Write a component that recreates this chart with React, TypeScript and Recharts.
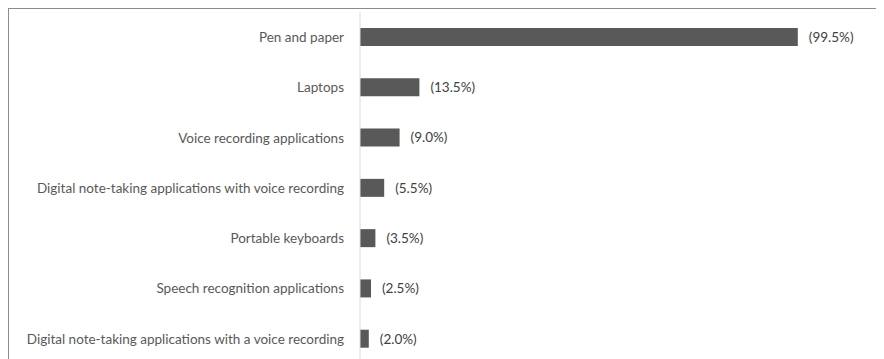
import React from "react";
import { BarChart, Bar, XAxis, YAxis, LabelList } from "recharts";

const categories = [
  "Pen and paper",
  "Laptops",
  "Voice recording applications",
  "Digital note-taking applications with voice recording",
  "Portable keyboards",
  "Speech recognition applications",
  "Digital note-taking applications with a voice recording",
];
const values = [99.5, 13.5, 9.0, 5.5, 3.5, 2.5, 2.0];

const data = categories.map((name, i) => ({ name, value: values[i] }));

const FONT = "Lato, 'DejaVu Sans', sans-serif";

export default function App() {
  return (
    <div
      style={{
        border: "1px solid #8c8c8c",
        width: 900,
        height: 370,
        overflow: "hidden",
        background: "#fff",
      }}
    >
      <BarChart
        width={880}
        height={360}
        data={data}
        layout="vertical"
        margin={{ top: 3, right: 89, bottom: 5, left: 0 }}
      >
        <XAxis type="number" domain={[0, 100]} hide />
        <YAxis
          type="category"
          dataKey="name"
          width={351}
          axisLine={{ stroke: "#d9d9d9" }}
          tickLine={false}
          tickSize={0}
          tickMargin={16}
          interval={0}
          tick={{ fill: "#595959", fontSize: 13.5, fontFamily: FONT }}
        />
        <Bar dataKey="value" fill="#595959" barSize={18} isAnimationActive={false}>
          <LabelList
            dataKey="value"
            position="right"
            offset={11}
            formatter={(v: number) => `(${Number(v).toFixed(1)}%)`}
            style={{ fill: "#404040", fontSize: 13.5, fontFamily: FONT }}
          />
        </Bar>
      </BarChart>
    </div>
  );
}
